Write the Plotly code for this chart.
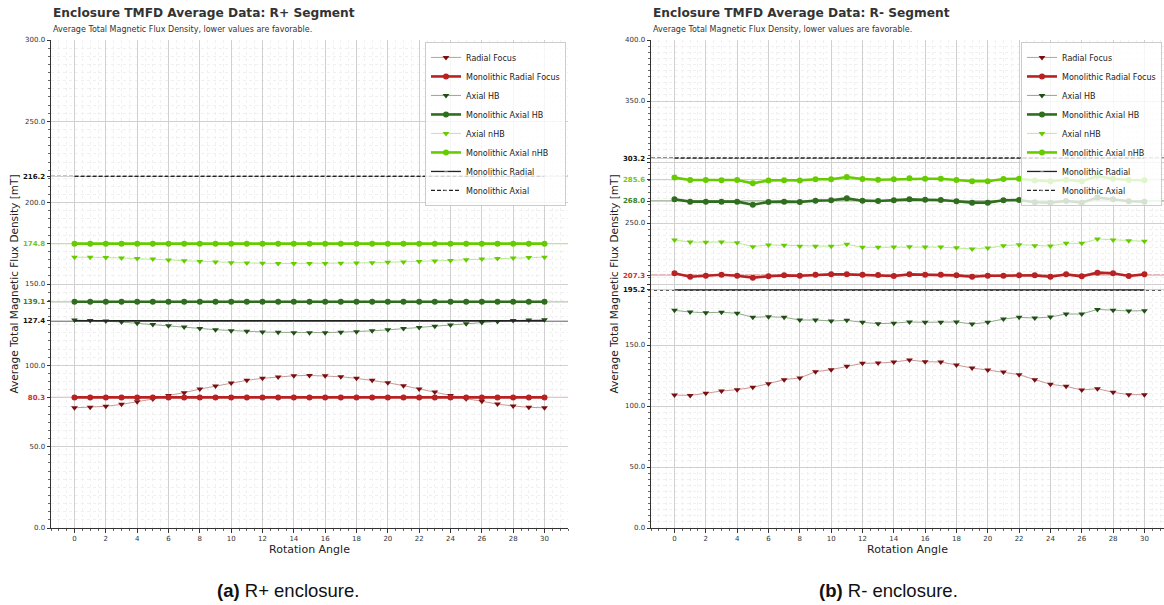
import numpy as np
import plotly.graph_objects as go

angles = list(range(31))

# ---------------- R+ enclosure ----------------
rp_radial_focus = [73.9, 74.2, 74.8, 76.0, 77.6, 79.3, 81.5, 83.2, 85.4, 87.3, 89.1,
                   90.8, 92.0, 92.8, 93.6, 93.8, 93.6, 93.0, 92.0, 90.8, 89.3,
                   87.5, 85.4, 83.6, 81.5, 79.5, 77.9, 76.2, 75.0, 74.2, 73.9]
rp_mono_radial_focus = [80.3, 80.3, 80.3, 80.3, 80.3, 80.3, 80.3, 80.3, 80.3, 80.3, 80.3,
                        80.3, 80.3, 80.3, 80.3, 80.3, 80.3, 80.3, 80.3, 80.3, 80.3,
                        80.3, 80.3, 80.3, 80.3, 80.3, 80.3, 80.3, 80.3, 80.3, 80.3]
rp_axial_hb = [127.8, 127.6, 127.2, 126.6, 125.9, 125.1, 124.4, 123.5, 122.7, 121.9, 121.3,
               120.9, 120.5, 120.3, 120.1, 120.0, 120.1, 120.4, 120.7, 121.2, 121.8,
               122.6, 123.3, 124.0, 124.8, 125.6, 126.4, 127.0, 127.5, 127.8, 128.0]
rp_mono_axial_hb = [139.1, 139.1, 139.1, 139.1, 139.1, 139.1, 139.1, 139.1, 139.1, 139.1, 139.1,
                    139.1, 139.1, 139.1, 139.1, 139.1, 139.1, 139.1, 139.1, 139.1, 139.1,
                    139.1, 139.1, 139.1, 139.1, 139.1, 139.1, 139.1, 139.1, 139.1, 139.1]
rp_axial_nhb = [166.5, 166.5, 166.3, 166.0, 165.7, 165.3, 164.8, 164.3, 163.9, 163.5, 163.1,
                162.9, 162.7, 162.6, 162.6, 162.6, 162.6, 162.7, 162.9, 163.1, 163.3,
                163.5, 163.8, 164.1, 164.5, 164.9, 165.3, 165.7, 166.0, 166.3, 166.5]
rp_mono_axial_nhb = [174.8, 174.8, 174.8, 174.8, 174.8, 174.8, 174.8, 174.8, 174.8, 174.8, 174.8,
                     174.8, 174.8, 174.8, 174.8, 174.8, 174.8, 174.8, 174.8, 174.8, 174.8,
                     174.8, 174.8, 174.8, 174.8, 174.8, 174.8, 174.8, 174.8, 174.8, 174.8]
rp_mono_radial = 127.4
rp_mono_axial = 216.2
rp_means = {"radial_focus": 80.3, "axial_hb": 139.1, "axial_nhb": 174.8}

# ---------------- R- enclosure ----------------
rm_radial_focus = [109.0, 108.7, 110.4, 112.3, 113.4, 115.3, 118.3, 121.6, 123.0, 128.1, 129.8,
                   132.5, 135.0, 135.2, 136.0, 137.7, 136.3, 136.1, 133.6, 131.1, 129.5,
                   127.9, 125.7, 121.6, 117.8, 116.1, 113.1, 114.2, 111.2, 109.3, 109.3]
rm_mono_radial_focus = [208.8, 206.0, 206.8, 207.6, 206.8, 205.2, 206.3, 207.1, 206.8, 207.6, 207.9,
                        207.9, 207.6, 207.4, 206.6, 207.9, 207.6, 207.6, 207.1, 206.0, 206.8,
                        206.8, 207.1, 207.1, 206.0, 207.9, 206.3, 209.3, 208.8, 206.6, 207.9]
rm_axial_hb = [178.4, 177.0, 176.5, 176.8, 176.0, 172.7, 173.2, 172.7, 170.5, 170.5, 169.7,
               170.2, 168.6, 167.5, 167.9, 168.9, 168.6, 168.6, 168.9, 167.2, 168.6,
               171.3, 172.7, 172.1, 172.9, 175.4, 175.4, 179.2, 178.4, 177.9, 178.1]
rm_mono_axial_hb = [269.4, 267.5, 267.5, 267.5, 267.5, 265.0, 267.2, 267.5, 267.2, 268.3, 268.6,
                    270.2, 268.3, 268.0, 268.6, 269.4, 269.1, 268.9, 267.8, 266.7, 266.7,
                    268.6, 268.9, 267.0, 266.7, 268.0, 266.7, 270.8, 269.4, 267.8, 267.5]
rm_axial_nhb = [236.1, 234.4, 234.2, 234.4, 233.9, 230.6, 232.0, 231.7, 230.9, 230.9, 230.9,
                232.5, 230.1, 230.1, 230.3, 230.6, 230.3, 230.3, 229.8, 228.7, 229.5,
                231.4, 232.2, 231.4, 231.1, 233.3, 233.3, 236.9, 236.1, 235.5, 235.0]
rm_mono_axial_nhb = [287.2, 285.2, 285.2, 285.0, 285.2, 282.5, 284.9, 285.0, 284.9, 285.8, 285.8,
                     287.7, 286.1, 285.5, 285.8, 286.6, 286.3, 286.3, 285.2, 284.2, 284.2,
                     286.1, 286.3, 284.9, 284.2, 285.5, 284.2, 288.5, 286.3, 285.2, 285.0]
rm_mono_radial = 195.2
rm_mono_axial = 303.2
rm_means = {"radial_focus": 207.3, "axial_hb": 268.0, "axial_nhb": 285.6}

# ---------------- styling ----------------
FONT = "DejaVu Sans"
C_RF_MARK, C_RF_LINE = "#7a0e0e", "rgba(139,30,30,0.45)"
C_MRF = "#b82222"
C_HB_MARK, C_HB_LINE = "#1f4f14", "rgba(40,90,25,0.5)"
C_MHB = "#2f6e1e"
C_NHB_MARK, C_NHB_LINE = "#66cc00", "rgba(110,210,20,0.45)"
C_MNHB = "#66cc00"
LBL_RED, LBL_DKG, LBL_LTG = "#d03030", "#3f7f25", "#6cc81a"
DASH = "4px,2px"

fig = go.Figure()


def add_panel(xa, ya, legend, radial_focus, mono_rf, axial_hb, mono_hb, axial_nhb, mono_nhb,
              mono_radial, mono_axial):
    common = dict(x=angles, xaxis=xa, yaxis=ya, legend=legend, mode="lines+markers")
    fig.add_trace(go.Scatter(y=radial_focus, name="Radial Focus",
                             line=dict(color=C_RF_LINE, width=1),
                             marker=dict(symbol="triangle-down", size=6, color=C_RF_MARK), **common))
    fig.add_trace(go.Scatter(y=mono_rf, name="Monolithic Radial Focus",
                             line=dict(color=C_MRF, width=2.6),
                             marker=dict(symbol="circle", size=6, color=C_MRF), **common))
    fig.add_trace(go.Scatter(y=axial_hb, name="Axial HB",
                             line=dict(color=C_HB_LINE, width=1),
                             marker=dict(symbol="triangle-down", size=6, color=C_HB_MARK), **common))
    fig.add_trace(go.Scatter(y=mono_hb, name="Monolithic Axial HB",
                             line=dict(color=C_MHB, width=2.6),
                             marker=dict(symbol="circle", size=6, color=C_MHB), **common))
    fig.add_trace(go.Scatter(y=axial_nhb, name="Axial nHB",
                             line=dict(color=C_NHB_LINE, width=1),
                             marker=dict(symbol="triangle-down", size=6, color=C_NHB_MARK), **common))
    fig.add_trace(go.Scatter(y=mono_nhb, name="Monolithic Axial nHB",
                             line=dict(color=C_MNHB, width=2.6),
                             marker=dict(symbol="circle", size=6, color=C_MNHB), **common))
    # single-valued references: plain lines on the plot, small dot only in the legend key
    no_dots = [0 for _ in angles]
    fig.add_trace(go.Scatter(y=[mono_radial for _ in angles], name="Monolithic Radial",
                             line=dict(color="#222222", width=1.3),
                             marker=dict(symbol="circle", size=no_dots, color="#222222"), **common))
    fig.add_trace(go.Scatter(y=[mono_axial for _ in angles], name="Monolithic Axial",
                             line=dict(color="#222222", width=1.3, dash=DASH),
                             marker=dict(symbol="circle", size=no_dots, color="#222222"), **common))


def ref_line(xa, ya, value, color, width, dash="solid"):
    fig.add_shape(type="line", xref=f"{xa} domain", yref=ya, x0=0, x1=1, y0=value, y1=value,
                  line=dict(color=color, width=width, dash=dash), layer="below")


add_panel("x", "y", "legend", rp_radial_focus, rp_mono_radial_focus, rp_axial_hb, rp_mono_axial_hb,
          rp_axial_nhb, rp_mono_axial_nhb, rp_mono_radial, rp_mono_axial)
add_panel("x2", "y2", "legend2", rm_radial_focus, rm_mono_radial_focus, rm_axial_hb, rm_mono_axial_hb,
          rm_axial_nhb, rm_mono_axial_nhb, rm_mono_radial, rm_mono_axial)

for xa, ya, means, mrad, max_ in [("x", "y", rp_means, rp_mono_radial, rp_mono_axial),
                                   ("x2", "y2", rm_means, rm_mono_radial, rm_mono_axial)]:
    ref_line(xa, ya, means["radial_focus"], "rgba(184,34,34,0.75)", 1)
    ref_line(xa, ya, means["axial_hb"], "rgba(47,90,30,0.8)", 1)
    ref_line(xa, ya, means["axial_nhb"], "rgba(110,205,20,0.8)", 1)
    ref_line(xa, ya, mrad, "#222222", 1.6)
    ref_line(xa, ya, max_, "#222222", 1.3, dash=DASH)


def fmt_tick(v, color=None, bold=False):
    s = f"{v:.1f}"
    if bold:
        s = f"<b>{s}</b>"
    if color:
        s = f"<span style='color:{color}'>{s}</span>"
    return s


def y_ticks(base, hidden, means, mono_radial, mono_axial):
    vals, texts = [], []
    for v in base:
        vals.append(v)
        texts.append("" if v in hidden else fmt_tick(v))
    specials = [(means["radial_focus"], LBL_RED), (means["axial_hb"], LBL_DKG),
                (means["axial_nhb"], LBL_LTG), (mono_radial, "#111111"), (mono_axial, "#111111")]
    for v, c in specials:
        vals.append(v)
        texts.append(fmt_tick(v, c, bold=True))
    return vals, texts


rp_base_ticks = [0, 50, 100, 150, 200, 250, 300]
rm_base_ticks = [0, 50, 100, 150, 200, 250, 300, 350, 400]
rp_tv, rp_tt = y_ticks(rp_base_ticks, [], rp_means, rp_mono_radial, rp_mono_axial)
rm_tv, rm_tt = y_ticks(rm_base_ticks, [200, 300], rm_means, rm_mono_radial, rm_mono_axial)

W = 1164.0
dom_left = [51 / W, 568 / W]
dom_right = [651 / W, 1.0]

minor_grid = dict(showgrid=True, gridcolor="#f0f0f0", griddash="dot", gridwidth=0.6,
                  ticks="outside", ticklen=2, tickcolor="#666")

xaxis_common = dict(
    range=[-1.5, 31.5], tickmode="linear", tick0=0, dtick=2,
    showgrid=True, gridcolor="#d0d0d0", gridwidth=0.8,
    ticks="outside", ticklen=3.5, tickcolor="#333", tickwidth=0.8,
    tickfont=dict(family=FONT, size=7, color="#333"),
    showline=True, linecolor="#333", linewidth=1, zeroline=False,
    minor=dict(tickmode="linear", tick0=0, dtick=0.5, **minor_grid),
    title=dict(text="Rotation Angle", font=dict(family=FONT, size=11, color="#222"), standoff=1),
    automargin=False,
)
yaxis_common = dict(
    tickmode="array", showgrid=True, gridcolor="#d0d0d0", gridwidth=0.8,
    ticks="outside", ticklen=3.5, tickcolor="#333", tickwidth=0.8,
    tickfont=dict(family=FONT, size=7, color="#333"),
    showline=True, linecolor="#333", linewidth=1, zeroline=False,
    minor=dict(tickmode="linear", tick0=0, dtick=5, **minor_grid),
    title=dict(text="Average Total Magnetic Flux Density [mT]",
               font=dict(family=FONT, size=10.5, color="#222"), standoff=2),
    automargin=False,
)

legend_style = dict(y=0.996, xanchor="right", yanchor="top",
                    bgcolor="rgba(255,255,255,0.8)", bordercolor="#cccccc", borderwidth=1,
                    font=dict(family=FONT, size=8, color="#222"), itemwidth=30, tracegroupgap=0)

fig.update_layout(
    width=1164, height=605,
    margin=dict(l=0, r=0, t=40, b=77),
    paper_bgcolor="white", plot_bgcolor="white",
    font=dict(family=FONT, color="#333"),
    showlegend=True,
    xaxis=dict(domain=dom_left, anchor="y", **xaxis_common),
    yaxis=dict(domain=[0, 1], anchor="x", range=[0, 300], tickvals=rp_tv, ticktext=rp_tt, **yaxis_common),
    xaxis2=dict(domain=dom_right, anchor="y2", **{**xaxis_common, "range": [-1.5, 31.25]}),
    yaxis2=dict(domain=[0, 1], anchor="x2", range=[0, 400], tickvals=rm_tv, ticktext=rm_tt, **yaxis_common),
    legend=dict(x=566 / W, **legend_style),
    legend2=dict(x=1162 / W, **legend_style),
)

# panel titles, subtitles and captions
panels = [(51, "Enclosure TMFD Average Data: R+ Segment", 288, "<b>(a)</b> R+ enclosure."),
          (651, "Enclosure TMFD Average Data: R- Segment", 888, "<b>(b)</b> R- enclosure.")]
for x_px, title, cap_x, caption in panels:
    fig.add_annotation(x=x_px / W, y=(528 - 13) / 488, xref="paper", yref="paper",
                       text=f"<b>{title}</b>", showarrow=False, xanchor="left", yanchor="middle",
                       font=dict(family=FONT, size=12.2, color="#333"))
    fig.add_annotation(x=x_px / W, y=(528 - 29) / 488, xref="paper", yref="paper",
                       text="Average Total Magnetic Flux Density, lower values are favorable.",
                       showarrow=False, xanchor="left", yanchor="middle",
                       font=dict(family=FONT, size=8, color="#333"))
    fig.add_annotation(x=cap_x / W, y=(528 - 590) / 488, xref="paper", yref="paper",
                       text=caption, showarrow=False, xanchor="center", yanchor="middle",
                       font=dict(family="Liberation Sans", size=18.5, color="#111"))

fig.write_html("out.html")
